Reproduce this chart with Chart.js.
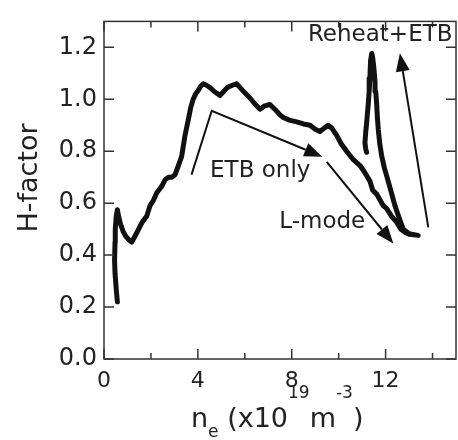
<!DOCTYPE html>
<html lang="en">
<head>
<meta charset="UTF-8" />
<title>H-factor vs n_e</title>
<script src="https://cdn.jsdelivr.net/npm/chart.js"></script>
<style>
  body { margin: 0; background: #fff; }
  canvas { display: block; }
</style>
</head>
<body>
<canvas id="hChart" width="458" height="440"></canvas>
<script>
  // density (x10^19 m^-3) and H-factor, read along the discharge path
  const ne = [
    0.57, 0.52, 0.47, 0.45, 0.47, 0.48, 0.52, 0.57, 0.62, 0.70, 0.82, 0.95, 1.05, 1.18,
    1.30, 1.42, 1.53, 1.65, 1.82, 1.96, 2.10, 2.25, 2.46, 2.60, 2.75, 2.90, 3.03, 3.15,
    3.31, 3.45, 3.59, 3.70, 3.80, 3.90, 4.02, 4.12, 4.23, 4.35, 4.52, 4.70, 4.94, 5.10,
    5.25, 5.37, 5.50, 5.65, 5.80, 6.00, 6.22, 6.45, 6.65, 6.85, 7.07, 7.30, 7.50, 7.64,
    7.90, 8.21, 8.50, 8.78, 9.00, 9.20, 9.40, 9.55, 9.70, 9.91, 10.10, 10.34, 10.60, 10.91,
    11.10, 11.33, 11.45, 11.62, 11.90, 12.04, 12.25, 12.47, 12.65, 12.83, 13.00, 13.20, 13.39,
    13.00, 12.75, 12.55, 12.40, 12.25, 12.11, 11.95, 11.83, 11.75, 11.69, 11.65, 11.62, 11.58,
    11.55, 11.50, 11.45, 11.41, 11.36, 11.33, 11.30, 11.26, 11.22, 11.19, 11.15, 11.12, 11.15, 11.19
  ];
  const hFactor = [
    0.22, 0.27, 0.33, 0.38, 0.45, 0.50, 0.55, 0.575, 0.55, 0.52, 0.49, 0.47, 0.46, 0.45,
    0.47, 0.49, 0.51, 0.53, 0.55, 0.59, 0.61, 0.64, 0.665, 0.69, 0.70, 0.70, 0.71, 0.74,
    0.78, 0.86, 0.92, 0.97, 1.00, 1.02, 1.035, 1.05, 1.06, 1.055, 1.045, 1.03, 1.015, 1.03,
    1.045, 1.05, 1.055, 1.06, 1.045, 1.025, 1.005, 0.98, 0.962, 0.975, 0.98, 0.96, 0.94, 0.93,
    0.92, 0.913, 0.905, 0.90, 0.885, 0.876, 0.89, 0.90, 0.89, 0.862, 0.83, 0.80, 0.77, 0.745,
    0.72, 0.685, 0.65, 0.635, 0.59, 0.58, 0.55, 0.527, 0.50, 0.488, 0.48, 0.478, 0.476,
    0.482, 0.50, 0.55, 0.59, 0.64, 0.685, 0.735, 0.783, 0.83, 0.882, 0.93, 0.98, 1.03,
    1.066, 1.12, 1.16, 1.177, 1.15, 1.08, 1.03, 0.98, 0.94, 0.907, 0.87, 0.833, 0.81, 0.796
  ];

  const xTicks = [0, 4, 8, 12];
  const xMinorTicks = [2, 6, 10, 14];
  const yTicks = [0.0, 0.2, 0.4, 0.6, 0.8, 1.0, 1.2];

  // arrows drawn in data units
  const etbArrow = [[3.73, 0.71], [4.59, 0.956], [9.30, 0.779]];
  const lmodeArrow = [[9.49, 0.759], [12.33, 0.445]];
  const reheatArrow = [[13.82, 0.507], [12.61, 1.177]];

  const notes = [
    { text: 'ETB only', x: 4.52, y: 0.70 },
    { text: 'L-mode', x: 7.47, y: 0.503 },
    { text: 'Reheat+ETB', x: 8.69, y: 1.225 }
  ];

  const FONT = '"DejaVu Sans", sans-serif';
  const INK = '#222';

  function arrow(ctx, pts) {
    const n = pts.length;
    const [tx, ty] = pts[n - 1];
    const [px, py] = pts[n - 2];
    const ang = Math.atan2(ty - py, tx - px);
    const headLen = 18, headW = 7;
    const bx = tx - headLen * Math.cos(ang);
    const by = ty - headLen * Math.sin(ang);

    ctx.beginPath();
    ctx.moveTo(pts[0][0], pts[0][1]);
    for (let i = 1; i < n - 1; i++) ctx.lineTo(pts[i][0], pts[i][1]);
    ctx.lineTo(bx, by);
    ctx.stroke();

    ctx.beginPath();
    ctx.moveTo(tx, ty);
    ctx.lineTo(bx + headW * Math.sin(ang), by - headW * Math.cos(ang));
    ctx.lineTo(bx - headW * Math.sin(ang), by + headW * Math.cos(ang));
    ctx.closePath();
    ctx.fill();
  }

  const decorations = {
    id: 'decorations',
    afterDraw(chart) {
      const { ctx, chartArea: a, scales: { x, y } } = chart;
      ctx.save();

      // frame with inward ticks on all four sides
      ctx.strokeStyle = '#333';
      ctx.lineWidth = 1.5;
      ctx.strokeRect(a.left, a.top, a.right - a.left, a.bottom - a.top);
      ctx.beginPath();
      xTicks.concat(xMinorTicks).forEach(v => {
        const px = x.getPixelForValue(v);
        const len = xTicks.includes(v) ? 10 : 6;
        ctx.moveTo(px, a.bottom); ctx.lineTo(px, a.bottom - len);
        ctx.moveTo(px, a.top); ctx.lineTo(px, a.top + len);
      });
      yTicks.forEach(v => {
        const py = y.getPixelForValue(v);
        ctx.moveTo(a.left, py); ctx.lineTo(a.left + 10, py);
        ctx.moveTo(a.right, py); ctx.lineTo(a.right - 10, py);
      });
      ctx.stroke();

      // arrows
      ctx.strokeStyle = '#111';
      ctx.fillStyle = '#111';
      ctx.lineWidth = 2;
      [etbArrow, lmodeArrow, reheatArrow].forEach(list => {
        arrow(ctx, list.map(p => [x.getPixelForValue(p[0]), y.getPixelForValue(p[1])]));
      });

      // annotation text
      ctx.fillStyle = INK;
      ctx.font = '23px ' + FONT;
      ctx.textAlign = 'left';
      ctx.textBaseline = 'alphabetic';
      notes.forEach(t => {
        ctx.fillText(t.text, x.getPixelForValue(t.x), y.getPixelForValue(t.y));
      });

      // y title
      ctx.save();
      ctx.translate(37, 178);
      ctx.rotate(-Math.PI / 2);
      ctx.textAlign = 'center';
      ctx.font = '27px ' + FONT;
      ctx.fillText('H-factor', 0, 0);
      ctx.restore();

      // x title: n_e (x10^19 m^-3)
      const big = '27px ' + FONT, small = '17px ' + FONT;
      const base = 427;
      let cx = 191;
      const parts = [
        ['n', big, 0], ['e', small, 10], [' (x10', big, 0],
        ['19', small, -29], ['m', big, 0], ['-3', small, -29], [')', big, 0]
      ];
      parts.forEach(([s, f, dy]) => {
        ctx.font = f;
        ctx.fillText(s, cx, base + dy);
        cx += ctx.measureText(s).width;
      });

      ctx.restore();
    }
  };

  new Chart(document.getElementById('hChart'), {
    type: 'scatter',
    data: {
      datasets: [{
        data: ne.map((v, i) => ({ x: v, y: hFactor[i] })),
        showLine: true,
        borderColor: '#111',
        borderWidth: 5,
        borderJoinStyle: 'round',
        borderCapStyle: 'round',
        pointRadius: 0,
        tension: 0
      }]
    },
    options: {
      responsive: false,
      animation: false,
      layout: { padding: { top: 6, right: 2, left: 0, bottom: 0 } },
      plugins: { legend: { display: false }, tooltip: { enabled: false } },
      scales: {
        x: {
          type: 'linear',
          min: 0, max: 15,
          afterFit: s => { s.height = 81; },
          afterBuildTicks: s => { s.ticks = xTicks.map(v => ({ value: v })); },
          grid: { display: false, drawTicks: false },
          border: { display: false },
          ticks: { color: INK, font: { family: 'DejaVu Sans', size: 22 }, padding: 9, maxRotation: 0 }
        },
        y: {
          min: 0, max: 1.3,
          afterFit: s => { s.width = 104; },
          afterBuildTicks: s => { s.ticks = yTicks.map(v => ({ value: v })); },
          grid: { display: false, drawTicks: false },
          border: { display: false },
          ticks: {
            color: INK, font: { family: 'DejaVu Sans', size: 24 }, padding: 7,
            callback: v => Number(v).toFixed(1)
          }
        }
      }
    },
    plugins: [decorations]
  });
</script>
</body>
</html>
